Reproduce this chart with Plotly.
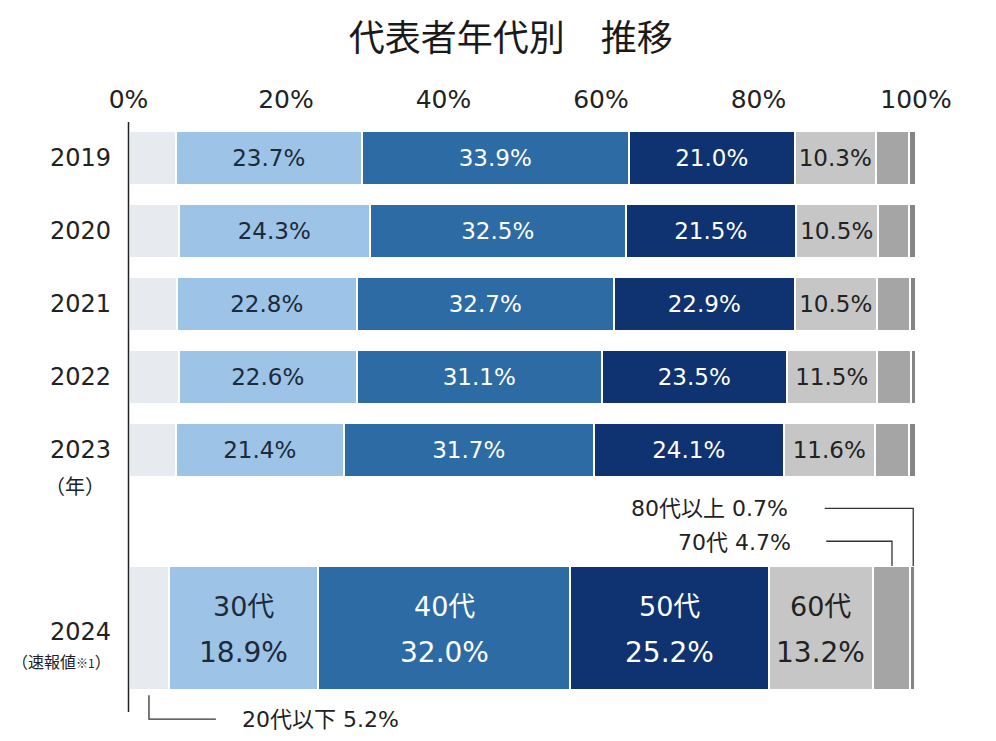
import plotly.graph_objects as go

# ---- data ----
years = ["2019", "2020", "2021", "2022", "2023", "2024"]
age_groups = ["20代以下", "30代", "40代", "50代", "60代", "70代", "80代以上"]
share_20s = [6.0, 6.4, 6.2, 6.4, 6.0, 5.2]
share_30s = [23.7, 24.3, 22.8, 22.6, 21.4, 18.9]
share_40s = [33.9, 32.5, 32.7, 31.1, 31.7, 32.0]
share_50s = [21.0, 21.5, 22.9, 23.5, 24.1, 25.2]
share_60s = [10.3, 10.5, 10.5, 11.5, 11.6, 13.2]
share_70s = [4.2, 3.9, 4.1, 4.3, 4.3, 4.7]
share_80s = [0.9, 0.9, 0.8, 0.6, 0.9, 0.7]
x_ticks = [0, 20, 40, 60, 80, 100]
x_tick_labels = ["0%", "20%", "40%", "60%", "80%", "100%"]

series = [share_20s, share_30s, share_40s, share_50s, share_60s, share_70s, share_80s]

# ---- styling ----
FONT = "DejaVu Sans, Noto Sans CJK JP"
CJK = "Noto Sans CJK JP"
colors = ["#e7eaee", "#9dc3e6", "#2d6ba5", "#0e3370", "#c6c6c6", "#a5a5a5", "#858585"]
text_colors = [None, "#1c2a3a", "#ffffff", "#ffffff", "#222222", None, None]
labelled = [False, True, True, True, True, False, False]
row_pos = [0, 1, 2, 3, 4, 6.438]
bar_w = [0.75] * 5 + [1.70]
Y_TOP, Y_BOT = -0.493, 7.849
last = len(years) - 1

fig = go.Figure()
annotations = []
cum = [0.0] * len(years)
for i, (name, vals) in enumerate(zip(age_groups, series)):
    if labelled[i]:
        texts = [f"{v:.1f}%" for v in vals[:-1]] + [""]
    else:
        texts = [""] * len(vals)
    fig.add_trace(go.Bar(
        y=row_pos, x=vals, orientation="h", width=bar_w, name=name,
        marker=dict(color=colors[i], line=dict(color="#ffffff", width=2.5)),
        text=texts, textposition="inside", insidetextanchor="middle",
        textangle=0, constraintext="none",
        textfont=dict(family=FONT, size=23, color=text_colors[i] or "#000"),
        hoverinfo="skip", showlegend=False,
    ))
    if labelled[i]:
        xc = cum[last] + vals[last] / 2
        annotations.append(dict(x=xc, y=row_pos[last] - 0.29, xref="x", yref="y",
                                text=name, showarrow=False, xanchor="center", yanchor="middle",
                                font=dict(family=FONT, size=27, color=text_colors[i])))
        annotations.append(dict(x=xc, y=row_pos[last] + 0.33, xref="x", yref="y",
                                text=f"{vals[last]:.1f}%", showarrow=False,
                                xanchor="center", yanchor="middle",
                                font=dict(family=FONT, size=28, color=text_colors[i])))
    cum = [c + v for c, v in zip(cum, vals)]

# year labels
for yr, pos in zip(years, row_pos):
    ypos = pos if yr != "2024" else pos + 0.055
    annotations.append(dict(x=0, xshift=-5, y=ypos, xref="paper", yref="y", text=yr,
                            showarrow=False, xanchor="right", yanchor="middle",
                            font=dict(family=FONT, size=24, color="#222")))
annotations.append(dict(x=0, xshift=-43, y=row_pos[4] + 0.48, xref="paper", yref="y",
                        text="（年）", showarrow=False, xanchor="center", yanchor="middle",
                        font=dict(family=CJK, size=20, color="#222")))
annotations.append(dict(x=0, xshift=-5, y=row_pos[5] + 0.45, xref="paper", yref="y",
                        text="（速報値<span style='font-size:12px'>※1</span>）",
                        showarrow=False, xanchor="right", yanchor="middle",
                        font=dict(family=CJK, size=16, color="#222")))

# callouts for small segments of 2024
bar_top = row_pos[last] - bar_w[last] / 2
bar_bottom = row_pos[last] + bar_w[last] / 2
c20 = share_20s[last] / 2
c80 = 100 - share_80s[last] / 2
c70 = 100 - share_80s[last] - share_70s[last] / 2

shapes = []
line_style = dict(color="#333333", width=1.3)
y80 = 4.8
shapes.append(dict(type="path", xref="x", yref="y",
                   path=f"M 88.4 {y80} L {c80} {y80} L {c80} {bar_top}", line=line_style))
annotations.append(dict(x=84.0, y=y80, xref="x", yref="y",
                        text=f"{age_groups[6]} {share_80s[last]}%", showarrow=False,
                        xanchor="right", yanchor="middle",
                        font=dict(family=FONT, size=22, color="#222")))
y70 = 5.25
shapes.append(dict(type="path", xref="x", yref="y",
                   path=f"M 88.6 {y70} L {c70} {y70} L {c70} {bar_top}", line=line_style))
annotations.append(dict(x=84.4, y=y70 + 0.02, xref="x", yref="y",
                        text=f"{age_groups[5]} {share_70s[last]}%", showarrow=False,
                        xanchor="right", yanchor="middle",
                        font=dict(family=FONT, size=22, color="#222")))
y20 = 7.685
shapes.append(dict(type="path", xref="x", yref="y",
                   path=f"M {c20} {bar_bottom + 0.07} L {c20} {y20} L 11.1 {y20}", line=line_style))
annotations.append(dict(x=14.2, y=y20 + 0.01, xref="x", yref="y",
                        text=f"{age_groups[0]} {share_20s[last]}%", showarrow=False,
                        xanchor="left", yanchor="middle",
                        font=dict(family=FONT, size=22, color="#222")))
# vertical axis line
shapes.append(dict(type="line", xref="x", yref="y", x0=0, x1=0, y0=Y_TOP, y1=7.589,
                   line=dict(color="#222", width=1.5)))

fig.update_layout(
    width=980, height=725,
    margin=dict(l=110, r=52, t=114, b=2),
    barmode="stack",
    bargap=0,
    plot_bgcolor="#ffffff", paper_bgcolor="#ffffff",
    title=dict(text="代表者年代別　推移", x=0.513, xanchor="center", y=0.9586, yanchor="middle",
               font=dict(family=CJK, size=36, color="#1a1a1a")),
    xaxis=dict(side="top", range=[-1.333, 102.54], tickvals=x_ticks, ticktext=x_tick_labels,
               showgrid=False, zeroline=False, showline=False, ticks="",
               ticklabelstandoff=8,
               tickfont=dict(family=FONT, size=25, color="#222")),
    yaxis=dict(range=[Y_BOT, Y_TOP], showgrid=False, zeroline=False, showline=False,
               showticklabels=False, ticks=""),
    shapes=shapes,
    annotations=annotations,
)

fig.write_html("out.html")
